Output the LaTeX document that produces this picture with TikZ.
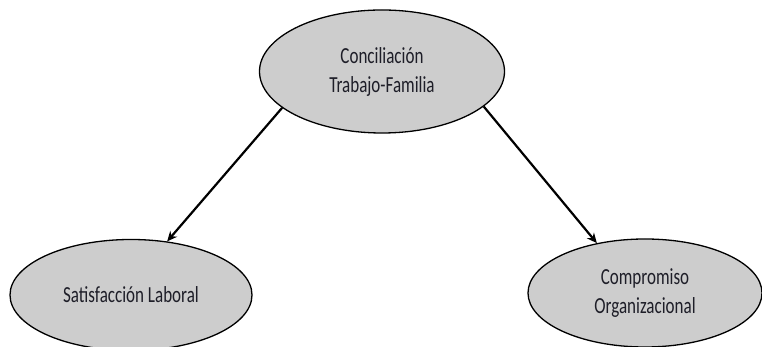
\documentclass[tikz,border=0pt]{standalone}
\usepackage{fontspec}
\setmainfont[FakeStretch=0.74]{Carlito}
\usetikzlibrary{arrows.meta,shapes.geometric}
\definecolor{nodegray}{RGB}{205,205,205}
\definecolor{textdark}{RGB}{30,30,40}

\begin{document}
\begin{tikzpicture}[x=1pt,y=1pt,-{Stealth[length=10pt,width=9pt]},
                    main node/.style={ellipse,draw,fill=nodegray,line width=1.3pt,
                      inner sep=0pt,align=center,text=textdark,
                      font=\fontsize{23}{29}\selectfont}]

  \useasboundingbox (0,0) rectangle (762,347);
  \clip (0,0) rectangle (762,347);

  \node[main node,minimum width=245pt,minimum height=123pt] (1) at (382,275.5) {Conciliación\\Trabajo-Familia};
  \node[main node,minimum width=242pt,minimum height=111pt] (2) at (131,52) {Satisfacción Laboral};
  \node[main node,minimum width=234pt,minimum height=108pt] (3) at (645,54) {Compromiso\\Organizacional};
  \path[line width=2.2pt]
    (1.200) edge (2.56)
    (1.341) edge (3.134);
\end{tikzpicture}
\end{document}
